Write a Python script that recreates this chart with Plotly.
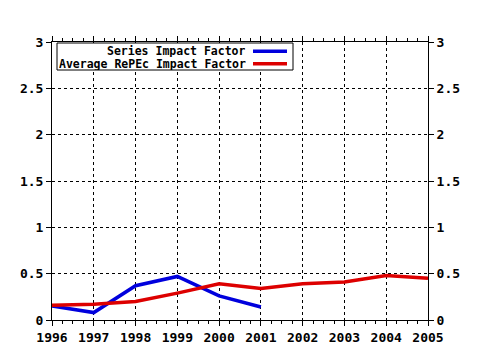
import plotly.graph_objects as go

years = [1996, 1997, 1998, 1999, 2000, 2001, 2002, 2003, 2004, 2005]
series_years = [1996, 1997, 1998, 1999, 2000, 2001]
series_if = [0.15, 0.08, 0.37, 0.47, 0.26, 0.14]
average_if = [0.16, 0.17, 0.20, 0.29, 0.39, 0.34, 0.39, 0.41, 0.48, 0.45]
series_names = ["Series Impact Factor", "Average RePEc Impact Factor"]
colors = ["#0000dd", "#dd0000"]
y_ticks = [0, 0.5, 1, 1.5, 2, 2.5, 3]
y_labels = ["0", "0.5", "1", "1.5", "2", "2.5", "3"]

font = dict(family="DejaVu Sans Mono", size=13, color="black", weight="bold")

fig = go.Figure()
fig.add_trace(go.Scatter(x=series_years, y=series_if, mode="lines",
                         line=dict(color=colors[0], width=3.5), name=series_names[0]))
fig.add_trace(go.Scatter(x=years, y=average_if, mode="lines",
                         line=dict(color=colors[1], width=3.5), name=series_names[1]))
fig.add_trace(go.Scatter(x=[years[0]], y=[0], yaxis="y2", mode="markers",
                         marker=dict(opacity=0), showlegend=False, hoverinfo="skip"))

axis_common = dict(showline=True, linecolor="black", linewidth=1, zeroline=False,
                   showgrid=True, gridcolor="black", griddash="dot", gridwidth=1,
                   tickfont=font, automargin=False, tickcolor="black")

fig.update_layout(
    width=480, height=350,
    margin=dict(l=52, r=52, t=42, b=30, autoexpand=False),
    paper_bgcolor="white", plot_bgcolor="white",
    showlegend=False,
    xaxis=dict(range=[1996, 2005], tickmode="array", tickvals=years,
               ticktext=[str(y) for y in years], ticks="outside", ticklen=5,
               mirror="ticks", minor=dict(dtick=0.25, tick0=1996, ticks="outside", ticklen=3,
                                          tickcolor="black", showgrid=False),
               **axis_common),
    yaxis=dict(range=[0, 3], tickmode="array", tickvals=y_ticks,
               ticktext=y_labels, ticks="outside", ticklen=5, mirror=True, **axis_common),
    yaxis2=dict(range=[0, 3], overlaying="y", side="right", tickmode="array",
                tickvals=y_ticks, ticktext=y_labels, ticks="outside", ticklen=5,
                tickcolor="black", showgrid=False, showline=False, zeroline=False,
                tickfont=font, automargin=False),
)

# legend drawn manually (text to the left of the line sample)
fig.add_shape(type="rect", xref="paper", yref="paper",
              x0=(57 - 52) / 376, x1=(293 - 52) / 376,
              y0=(320 - 70) / 278, y1=(320 - 43) / 278,
              line=dict(color="black", width=1), fillcolor="white", layer="above")
for i, (name, c) in enumerate(zip(series_names, colors)):
    yc = (320 - (51.3 + 12.4 * i)) / 278
    fig.add_annotation(xref="paper", yref="paper", x=(247 - 52) / 376, y=yc,
                       text=name, showarrow=False, xanchor="right", yanchor="middle",
                       height=12, borderpad=0,
                       font=dict(family="DejaVu Sans Mono", size=11.5, color="black",
                                 weight="bold"))
    fig.add_shape(type="line", xref="paper", yref="paper",
                  x0=(253 - 52) / 376, x1=(287 - 52) / 376, y0=yc, y1=yc,
                  line=dict(color=c, width=3.5), layer="above")

fig.write_html("out.html")
